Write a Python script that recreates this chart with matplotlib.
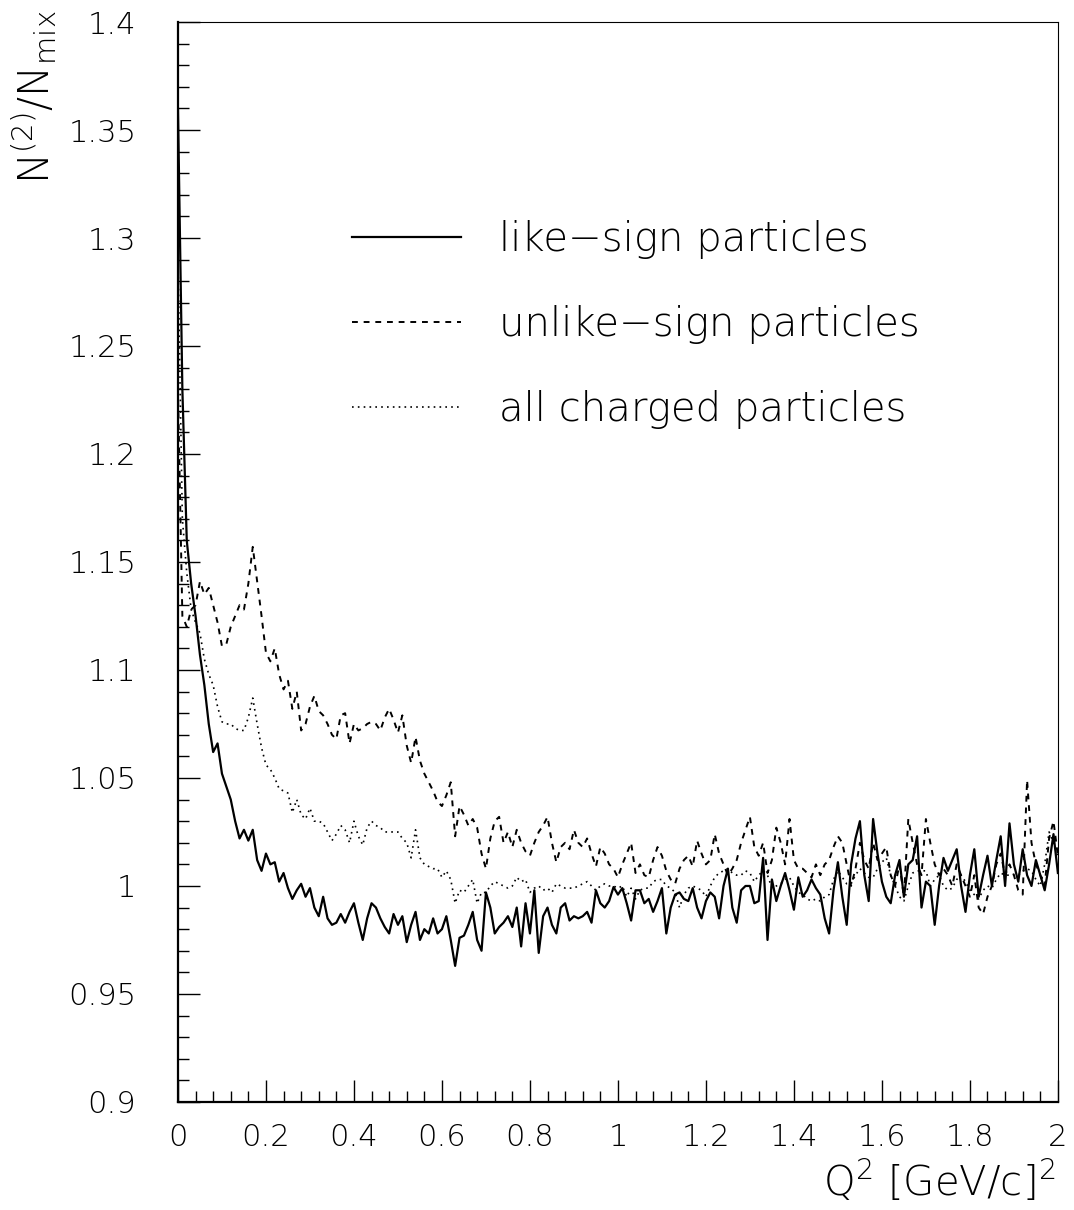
import matplotlib
matplotlib.use("Agg")
import matplotlib.pyplot as plt
from matplotlib.ticker import MultipleLocator, FuncFormatter
import numpy as np

plt.rcParams['font.family'] = ['DejaVu Sans']
plt.rcParams['font.weight'] = 'light'
plt.rcParams['mathtext.fontset'] = 'custom'
plt.rcParams['mathtext.rm'] = 'DejaVu Sans:light'
plt.rcParams['mathtext.it'] = 'DejaVu Sans:light'
plt.rcParams['mathtext.default'] = 'rm'

# Q^2 bins [GeV/c]^2
q2 = np.round(np.arange(0, 201) * 0.01, 2)

# N(2)/Nmix, like-sign pairs
like_sign = [
    1.36, 1.23, 1.16, 1.14, 1.125, 1.107, 1.093, 1.075, 1.062, 1.066,
    1.052, 1.046, 1.040, 1.030, 1.022, 1.026, 1.021, 1.026, 1.012, 1.007,
    1.015, 1.010, 1.011, 1.002, 1.006, 0.999, 0.994, 0.998, 1.001, 0.995,
    0.999, 0.990, 0.986, 0.995, 0.985, 0.982, 0.983, 0.987, 0.983, 0.988,
    0.992, 0.983, 0.975, 0.985, 0.992, 0.990, 0.985, 0.981, 0.978, 0.987,
    0.982, 0.986, 0.974, 0.982, 0.988, 0.975, 0.980, 0.978, 0.985, 0.978,
    0.980, 0.986, 0.975, 0.963, 0.976, 0.977, 0.982, 0.988, 0.975, 0.970,
    0.997, 0.990, 0.978, 0.981, 0.983, 0.986, 0.981, 0.990, 0.972, 0.992,
    0.978, 0.998, 0.969, 0.986, 0.990, 0.982, 0.978, 0.990, 0.992, 0.984,
    0.986, 0.985, 0.986, 0.988, 0.983, 0.998, 0.992, 0.990, 0.993, 0.9995,
    0.996, 0.999, 0.992, 0.984, 0.998, 0.998, 0.992, 0.994, 0.988, 0.993,
    0.999, 0.978, 0.990, 0.996, 0.997, 0.994, 0.993, 0.999, 0.990, 0.985,
    0.993, 0.997, 0.995, 0.985, 1.000, 1.008, 0.990, 0.983, 0.998, 1.000,
    1.000, 0.992, 0.993, 1.013, 0.975, 1.003, 0.993, 1.000, 1.006, 0.998,
    0.989, 1.004, 0.995, 0.998, 1.003, 0.999, 0.996, 0.985, 0.978, 0.998,
    1.011, 0.995, 0.982, 1.010, 1.022, 1.030, 1.005, 0.993, 1.031, 1.015,
    1.002, 0.995, 0.992, 1.005, 1.012, 0.995, 1.010, 1.012, 1.023, 0.990,
    1.002, 1.000, 0.982, 1.000, 1.013, 1.007, 1.012, 1.017, 1.000, 0.988,
    1.005, 1.017, 0.995, 1.005, 1.014, 1.000, 1.012, 1.023, 1.000, 1.029,
    1.010, 1.002, 1.017, 1.005, 1.000, 1.012, 1.005, 0.998, 1.010, 1.024,
    1.006,
]

# unlike-sign pairs
unlike_sign = [
    1.23, 1.125, 1.12, 1.128, 1.13, 1.141, 1.135, 1.138, 1.130, 1.122,
    1.111, 1.112, 1.120, 1.125, 1.130, 1.128, 1.140, 1.157, 1.141, 1.125,
    1.108, 1.104, 1.110, 1.098, 1.091, 1.095, 1.082, 1.090, 1.072, 1.075,
    1.083, 1.088, 1.081, 1.079, 1.075, 1.070, 1.068, 1.079, 1.080, 1.066,
    1.075, 1.072, 1.073, 1.075, 1.076, 1.075, 1.072, 1.078, 1.082, 1.077,
    1.071, 1.079, 1.065, 1.057, 1.069, 1.058, 1.052, 1.048, 1.044, 1.039,
    1.037, 1.042, 1.048, 1.023, 1.037, 1.033, 1.028, 1.031, 1.027, 1.015,
    1.008, 1.022, 1.030, 1.032, 1.020, 1.025, 1.018, 1.026, 1.020, 1.016,
    1.014, 1.020, 1.025, 1.028, 1.032, 1.020, 1.011, 1.018, 1.020, 1.017,
    1.026, 1.020, 1.018, 1.022, 1.015, 1.009, 1.018, 1.015, 1.010, 1.008,
    1.004, 1.010, 1.015, 1.020, 1.006, 1.010, 1.005, 1.004, 1.012, 1.018,
    1.014, 1.007, 1.003, 1.001, 1.008, 1.012, 1.014, 1.009, 1.021, 1.015,
    1.010, 1.012, 1.024, 1.015, 1.010, 1.005, 1.008, 1.012, 1.020, 1.026,
    1.032, 1.018, 1.014, 1.020, 1.006, 1.012, 1.027, 1.020, 1.010, 1.031,
    1.012, 1.008, 1.008, 1.006, 1.004, 1.010, 1.005, 1.010, 1.012, 1.018,
    1.023, 1.020, 1.010, 1.000, 1.008, 1.020, 1.012, 1.008, 1.020, 1.012,
    1.015, 1.018, 1.005, 1.000, 1.010, 0.995, 1.031, 1.020, 1.010, 1.005,
    1.031, 1.020, 1.010, 1.005, 1.008, 1.005, 1.000, 1.010, 1.005, 1.000,
    0.995, 1.005, 0.990, 0.987, 0.995, 1.000, 1.010, 1.015, 1.005, 1.010,
    1.005, 0.998, 0.996, 1.049, 1.020, 1.010, 1.005, 1.000, 1.022, 1.030,
    1.014,
]

# all charged particles
all_charged = [
    1.29, 1.17, 1.145, 1.128, 1.122, 1.117, 1.105, 1.098, 1.093, 1.083,
    1.076, 1.075, 1.075, 1.073, 1.072, 1.072, 1.078, 1.087, 1.075, 1.064,
    1.056, 1.054, 1.050, 1.045, 1.044, 1.043, 1.034, 1.040, 1.033, 1.031,
    1.036, 1.030, 1.030, 1.029, 1.025, 1.021, 1.024, 1.028, 1.026, 1.020,
    1.030, 1.023, 1.019, 1.027, 1.030, 1.028, 1.027, 1.025, 1.025, 1.025,
    1.025, 1.022, 1.020, 1.013, 1.026, 1.013, 1.010, 1.009, 1.008, 1.008,
    1.004, 1.007, 1.003, 0.992, 0.998, 0.997, 1.000, 1.003, 0.992, 0.997,
    0.997, 1.000, 1.002, 1.001, 1.000, 0.999, 1.000, 1.004, 1.002, 1.003,
    0.997, 0.999, 1.000, 0.998, 0.999, 0.997, 1.001, 1.000, 0.999, 0.999,
    0.999, 1.000, 1.001, 1.002, 1.000, 0.998, 1.000, 1.001, 1.000, 1.000,
    0.999, 1.000, 0.995, 0.999, 0.994, 0.998, 0.999, 0.999, 1.002, 1.003,
    1.003, 1.000, 0.999, 0.997, 0.990, 0.996, 0.999, 1.000, 0.999, 0.998,
    0.995, 1.000, 1.004, 1.006, 1.007, 1.008, 1.006, 1.005, 1.005, 1.007,
    1.006, 1.002, 1.005, 1.007, 1.005, 0.999, 1.000, 1.001, 1.003, 1.004,
    1.000, 0.997, 0.996, 0.994, 0.993, 0.994, 0.993, 0.995, 0.996, 1.003,
    1.007, 1.004, 1.001, 1.001, 1.005, 1.008, 1.006, 1.004, 1.004, 1.008,
    1.011, 1.013, 1.005, 1.000, 0.995, 0.993, 1.000, 1.006, 1.007, 1.007,
    1.007, 1.000, 1.003, 1.005, 1.000, 0.998, 0.999, 1.003, 1.005, 1.002,
    0.998, 0.996, 0.994, 0.998, 1.000, 0.999, 1.003, 1.006, 1.005, 1.005,
    1.005, 1.005, 1.007, 1.008, 1.007, 1.003, 1.000, 1.010, 1.025, 1.020,
    1.014,
]

labels = ["like\u2212sign particles", "unlike\u2212sign particles", "all charged particles"]

fig = plt.figure(figsize=(10.74, 12.10), dpi=100)
ax = fig.add_axes([0.1657, 0.0893, 0.8193, 0.8925])

ax.plot(q2, like_sign, color="black", lw=1.6, label=labels[0])
ax.plot(q2, unlike_sign, color="black", lw=1.4, linestyle=(0, (3, 3)), label=labels[1])
ax.plot(q2, all_charged, color="black", lw=1.2, linestyle=(0, (1, 2.5)), label=labels[2])

ax.set_xlim(0, 2)
ax.set_ylim(0.9, 1.4)
ax.xaxis.set_major_locator(MultipleLocator(0.2))
ax.xaxis.set_minor_locator(MultipleLocator(0.04))
ax.yaxis.set_major_locator(MultipleLocator(0.05))
ax.yaxis.set_minor_locator(MultipleLocator(0.01))
fmt = FuncFormatter(lambda v, p: "%g" % round(v, 3))
ax.xaxis.set_major_formatter(fmt)
ax.yaxis.set_major_formatter(fmt)
ax.tick_params(which="both", direction="in", top=False, right=False, width=1.0, labelsize=22)
ax.tick_params(which="major", length=16)
ax.tick_params(which="minor", length=8)
ax.tick_params(axis="y", pad=30)
ax.tick_params(axis="x", pad=15)
for s in ["left", "bottom"]:
    ax.spines[s].set_linewidth(1.6)
for s in ["top", "right"]:
    ax.spines[s].set_linewidth(0.8)

ax.set_ylabel(r"$N^{(2)}/N_{mix}$", fontsize=30, loc="top")
ax.yaxis.set_label_coords(-0.135, 1.011)
ax.set_xlabel(r"$Q^2\ [GeV/c]^2$", fontsize=29, loc="right")
ax.xaxis.set_label_coords(0.997, -0.053)

ax.legend(loc="upper left", bbox_to_anchor=(0.198, 0.817), frameon=False, fontsize=29,
          handlelength=2.7, handletextpad=0.95, labelspacing=1.15, borderpad=0, borderaxespad=0)

fig.savefig("out.png", dpi=100)
